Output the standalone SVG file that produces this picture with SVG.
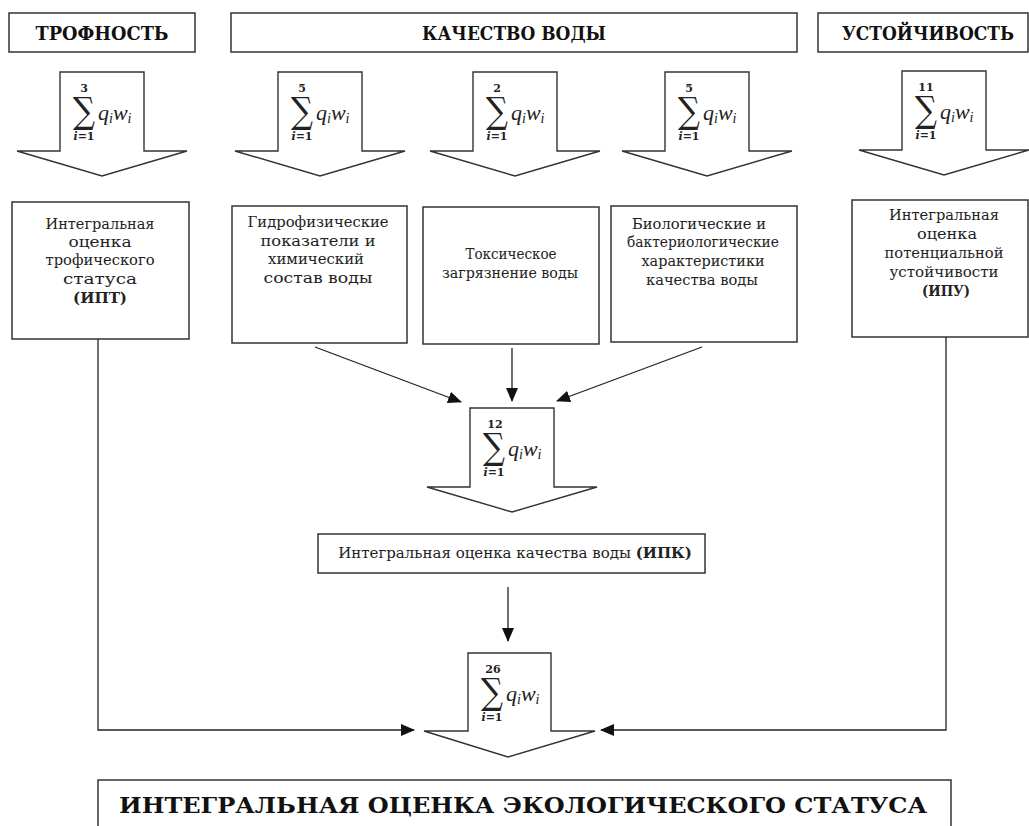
<svg xmlns="http://www.w3.org/2000/svg" xmlns:xlink="http://www.w3.org/1999/xlink" width="1029" height="826" viewBox="0 0 1029 826">
<style>
.box{fill:#fff;stroke:#333;stroke-width:1.5}
.blk{fill:#fff;stroke:#333;stroke-width:1.4;stroke-linejoin:miter}
.hd{font-family:"DejaVu Serif","Liberation Serif",serif;font-weight:bold;font-size:18px;fill:#111;text-anchor:middle}
.t{font-family:"DejaVu Serif","Liberation Serif",serif;font-size:15px;fill:#222;text-anchor:middle}
.b{font-weight:bold}
.m{font-family:"DejaVu Serif","Liberation Serif",serif;fill:#222}
.sig{font-size:36px;text-anchor:middle}
.idx{font-size:11px;font-weight:bold;text-anchor:middle}
.q{font-family:"Liberation Serif","DejaVu Serif",serif;font-size:22px;font-style:italic}
.sub{font-size:14px;font-style:italic}
.ln{fill:none;stroke:#222;stroke-width:1.3}
.big{font-family:"DejaVu Serif","Liberation Serif",serif;font-weight:bold;font-size:23px;fill:#111;text-anchor:middle}
</style>
<defs>
<marker id="ah" markerUnits="userSpaceOnUse" markerWidth="14" markerHeight="12" viewBox="0 0 14 12" refX="13" refY="6" orient="auto">
<path d="M0,0 L14,6 L0,12 Z" fill="#111"/>
</marker>
<path id="blk" class="blk" d="M0,0 H84 V79 H127 L42,104 L-43,79 H0 Z"/>
<g id="sg">
<text class="m sig" x="24" y="51" textLength="22" lengthAdjust="spacingAndGlyphs">∑</text>
<text class="m idx" x="24" y="68"><tspan font-style="italic">i</tspan>=1</text>
<text class="m q" x="38" y="48">q<tspan class="sub" dy="3">i</tspan><tspan dy="-3">w</tspan><tspan class="sub" dy="3">i</tspan></text>
</g>
</defs>

<g id="hdr-trofnost">
<rect class="box" x="9" y="13" width="186" height="39"/>
<text class="hd" x="102" y="40" textLength="133" lengthAdjust="spacingAndGlyphs">ТРОФНОСТЬ</text>
</g>
<g id="hdr-kachestvo">
<rect class="box" x="231" y="13" width="566" height="39"/>
<text class="hd" x="514" y="40" textLength="184" lengthAdjust="spacingAndGlyphs">КАЧЕСТВО ВОДЫ</text>
</g>
<g id="hdr-ustoichivost">
<rect class="box" x="818" y="13" width="210" height="39"/>
<text class="hd" x="928" y="40" textLength="172" lengthAdjust="spacingAndGlyphs">УСТОЙЧИВОСТЬ</text>
</g>

<g id="sum1" transform="translate(60,72)">
<use xlink:href="#blk"/><use xlink:href="#sg"/>
<text class="m idx" x="24" y="20">3</text>
</g>
<g id="sum2" transform="translate(278,72)">
<use xlink:href="#blk"/><use xlink:href="#sg"/>
<text class="m idx" x="24" y="20">5</text>
</g>
<g id="sum3" transform="translate(473,72)">
<use xlink:href="#blk"/><use xlink:href="#sg"/>
<text class="m idx" x="24" y="20">2</text>
</g>
<g id="sum4" transform="translate(665,72)">
<use xlink:href="#blk"/><use xlink:href="#sg"/>
<text class="m idx" x="24" y="20">5</text>
</g>
<g id="sum5" transform="translate(902,71)">
<use xlink:href="#blk"/><use xlink:href="#sg"/>
<text class="m idx" x="24" y="20">11</text>
</g>

<g id="ipt">
<rect class="box" x="12" y="202" width="177" height="137"/>
<text class="t" x="100" y="229" textLength="109" lengthAdjust="spacingAndGlyphs">Интегральная</text>
<text class="t" x="100" y="247" textLength="63" lengthAdjust="spacingAndGlyphs">оценка</text>
<text class="t" x="100" y="265" textLength="109" lengthAdjust="spacingAndGlyphs">трофического</text>
<text class="t" x="100" y="284" textLength="74" lengthAdjust="spacingAndGlyphs">статуса</text>
<text class="t b" x="100" y="303" textLength="54" lengthAdjust="spacingAndGlyphs">(ИПТ)</text>
</g>
<g id="gidro">
<rect class="box" x="232" y="206" width="175" height="137"/>
<text class="t" x="318" y="227" textLength="141" lengthAdjust="spacingAndGlyphs">Гидрофизические</text>
<text class="t" x="318" y="246" textLength="115" lengthAdjust="spacingAndGlyphs">показатели и</text>
<text class="t" x="316" y="264" textLength="96" lengthAdjust="spacingAndGlyphs">химический</text>
<text class="t" x="318" y="283" textLength="109" lengthAdjust="spacingAndGlyphs">состав воды</text>
</g>
<g id="toks">
<rect class="box" x="423" y="207" width="176" height="137"/>
<text class="t" x="511" y="259" textLength="91" lengthAdjust="spacingAndGlyphs">Токсическое</text>
<text class="t" x="510" y="278" textLength="136" lengthAdjust="spacingAndGlyphs">загрязнение воды</text>
</g>
<g id="bio">
<rect class="box" x="611" y="206" width="186" height="136"/>
<text class="t" x="699" y="229" textLength="134" lengthAdjust="spacingAndGlyphs">Биологические и</text>
<text class="t" x="703" y="247" textLength="152" lengthAdjust="spacingAndGlyphs">бактериологические</text>
<text class="t" x="703" y="266" textLength="123" lengthAdjust="spacingAndGlyphs">характеристики</text>
<text class="t" x="702" y="285" textLength="112" lengthAdjust="spacingAndGlyphs">качества воды</text>
</g>
<g id="ipu">
<rect class="box" x="852" y="200" width="176" height="137"/>
<text class="t" x="944" y="220" textLength="110" lengthAdjust="spacingAndGlyphs">Интегральная</text>
<text class="t" x="947" y="239" textLength="60" lengthAdjust="spacingAndGlyphs">оценка</text>
<text class="t" x="944" y="258" textLength="119" lengthAdjust="spacingAndGlyphs">потенциальной</text>
<text class="t" x="944" y="277" textLength="109" lengthAdjust="spacingAndGlyphs">устойчивости</text>
<text class="t b" x="946" y="296" textLength="48" lengthAdjust="spacingAndGlyphs">(ИПУ)</text>
</g>

<g id="sum12" transform="translate(470,408)">
<use xlink:href="#blk"/><use xlink:href="#sg"/>
<text class="m idx" x="25" y="20">12</text>
</g>
<g id="ipk">
<rect class="box" x="318" y="534" width="387" height="39"/>
<text class="t" x="515" y="558" font-size="14">Интегральная оценка качества воды <tspan class="b">(ИПК)</tspan></text>
</g>
<g id="sum26" transform="translate(468,653)">
<path class="blk" d="M0,0 H83 V78 H127 L40,104 L-44,78 H0 Z"/>
<use xlink:href="#sg"/>
<text class="m idx" x="25" y="20">26</text>
</g>
<g id="ies">
<rect class="box" x="98" y="780" width="853" height="60"/>
<text class="big" x="523" y="813" textLength="808" lengthAdjust="spacingAndGlyphs">ИНТЕГРАЛЬНАЯ ОЦЕНКА ЭКОЛОГИЧЕСКОГО СТАТУСА</text>
</g>

<g id="connectors">
<path class="ln" d="M315,347 L461,402" marker-end="url(#ah)"/>
<path class="ln" d="M512,348 L512,401" marker-end="url(#ah)"/>
<path class="ln" d="M702,347 L557,401" marker-end="url(#ah)"/>
<path class="ln" d="M508,587 L508,641" marker-end="url(#ah)"/>
<path class="ln" d="M98,339 V730 H414" marker-end="url(#ah)"/>
<path class="ln" d="M946,337 V730 H601" marker-end="url(#ah)"/>
</g>
</svg>
